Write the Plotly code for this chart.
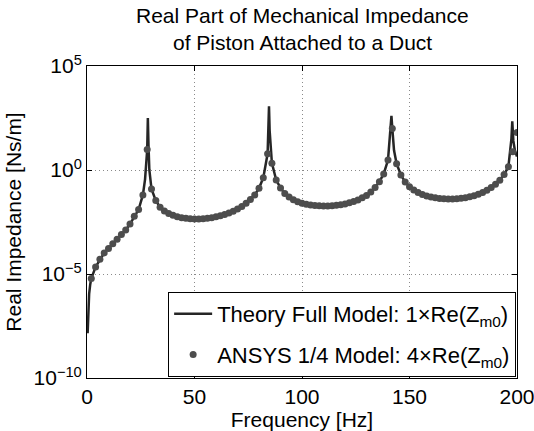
import plotly.graph_objects as go

# ANSYS 1/4 model samples (Hz) and log10 of 4*Re(Zm0)
ansys_freq = [2, 4, 6, 8, 10, 12, 14, 16, 18, 20, 22, 24, 26, 28, 30, 32, 34, 36, 38, 40,
              42, 44, 46, 48, 50, 52, 54, 56, 58, 60, 62, 64, 66, 68, 70, 72, 74, 76, 78, 80,
              82, 84, 86, 88, 90, 92, 94, 96, 98, 100, 102, 104, 106, 108, 110, 112, 114, 116, 118, 120,
              122, 124, 126, 128, 130, 132, 134, 136, 138, 140, 142, 144, 146, 148, 150, 152, 154, 156, 158, 160,
              162, 164, 166, 168, 170, 172, 174, 176, 178, 180, 182, 184, 186, 188, 190, 192, 194, 196, 198, 200]
ansys_log10 = [-5.22, -4.66, -4.29, -3.99, -3.77, -3.55, -3.33, -3.10, -2.88, -2.60,
               -2.22, -1.90, -1.20, 0.98, -0.91, -1.47, -1.79, -1.97, -2.09, -2.18,
               -2.25, -2.29, -2.32, -2.34, -2.35, -2.35, -2.34, -2.32, -2.29, -2.25,
               -2.20, -2.14, -2.07, -1.98, -1.88, -1.75, -1.60, -1.42, -1.20, -0.88,
               -0.37, 0.78, 0.33, -0.48, -0.86, -1.13, -1.30, -1.43, -1.53, -1.60,
               -1.65, -1.68, -1.71, -1.72, -1.73, -1.73, -1.72, -1.70, -1.67, -1.63,
               -1.58, -1.52, -1.44, -1.34, -1.22, -1.06, -0.84, -0.56, -0.19, 0.48,
               2.00, 0.30, -0.24, -0.58, -0.80, -0.96, -1.08, -1.18, -1.25, -1.30,
               -1.34, -1.37, -1.38, -1.39, -1.39, -1.38, -1.36, -1.33, -1.29, -1.24,
               -1.17, -1.08, -0.97, -0.84, -0.68, -0.49, -0.22, 0.16, 0.88, 1.80]

# Theory full model curve (Hz) and log10 of Re(Zm0)
theory_freq = [0.3, 0.6, 1.0, 1.5, 2, 4, 6, 8, 10, 12, 14, 16, 18, 20, 22, 24, 26, 27, 28, 28.3,
               28.6, 29.0, 30, 32, 34, 36, 38, 40, 42, 44, 46, 48, 50, 52, 54, 56, 58, 60, 62, 64,
               66, 68, 70, 72, 74, 76, 78, 80, 82, 84, 84.65, 84.95, 85.4, 86, 88, 90, 92, 94, 96, 98,
               100, 102, 104, 106, 108, 110, 112, 114, 116, 118, 120, 122, 124, 126, 128, 130, 132, 134, 136, 138,
               140, 141.6, 142, 142.8, 144, 146, 148, 150, 152, 154, 156, 158, 160, 162, 164, 166, 168, 170, 172, 174,
               176, 178, 180, 182, 184, 186, 188, 190, 192, 194, 196, 197.4, 197.8, 198.3, 199, 200]
theory_log10 = [-7.85, -6.60, -5.95, -5.50, -5.22, -4.66, -4.29, -3.99, -3.77, -3.55, -3.33, -3.10, -2.88, -2.60, -2.22, -1.90, -1.20, -0.45, 0.98, 2.50,
                1.20, 0.00, -0.91, -1.47, -1.79, -1.97, -2.09, -2.18, -2.25, -2.29, -2.32, -2.34, -2.35, -2.35, -2.34, -2.32, -2.29, -2.25, -2.20, -2.14,
                -2.07, -1.98, -1.88, -1.75, -1.60, -1.42, -1.20, -0.88, -0.37, 0.78, 3.06, 1.90, 1.00, 0.33, -0.48, -0.86, -1.13, -1.30, -1.43, -1.53,
                -1.60, -1.65, -1.68, -1.71, -1.72, -1.73, -1.73, -1.72, -1.70, -1.67, -1.63, -1.58, -1.52, -1.44, -1.34, -1.22, -1.06, -0.84, -0.56, -0.19,
                0.48, 2.60, 2.00, 0.95, 0.30, -0.24, -0.58, -0.80, -0.96, -1.08, -1.18, -1.25, -1.30, -1.34, -1.37, -1.38, -1.39, -1.39, -1.38, -1.36,
                -1.33, -1.29, -1.24, -1.17, -1.08, -0.97, -0.84, -0.68, -0.49, -0.22, 0.16, 1.50, 2.34, 1.40, 0.95, 0.65]

x_ticks = [0, 50, 100, 150, 200]
y_tick_vals = [1e-10, 1e-5, 1e0, 1e5]
y_tick_text = ["10<sup>−10</sup>", "10<sup>−5</sup>", "10<sup>0</sup>", "10<sup>5</sup>"]

title_lines = ["Real Part of Mechanical Impedance", "of Piston Attached to a Duct"]

theory_vals = [10 ** v for v in theory_log10]
ansys_vals = [10 ** v for v in ansys_log10]

FONT = "Liberation Sans"
FS = 21

fig = go.Figure()
fig.add_trace(go.Scatter(
    x=theory_freq, y=theory_vals, mode="lines",
    line=dict(color="#262626", width=2.5),
    name="Theory Full Model: 1×Re(Z<sub>m0</sub>)",
    legendgroup="a",
))
fig.add_trace(go.Scatter(
    x=ansys_freq, y=ansys_vals, mode="markers",
    marker=dict(color="#4d4d4d", size=7),
    name="ANSYS 1/4 Model: 4×Re(Z<sub>m0</sub>)",
    legendgroup="b",
))

# plot area spans y pixels 66..378 -> paper coords
def py_to_paper(py):
    return (378 - py) / 312.0

for txt, py in zip(title_lines, [15.5, 42.5]):
    fig.add_annotation(
        text=txt, xref="paper", yref="paper", x=0.5, y=py_to_paper(py),
        xanchor="center", yanchor="middle", showarrow=False,
        font=dict(family=FONT, size=FS, color="black"),
    )

fig.update_layout(
    width=534, height=431,
    margin=dict(l=87, r=17, t=66, b=53),
    paper_bgcolor="white", plot_bgcolor="white",
    font=dict(family=FONT, size=FS, color="black"),
    showlegend=True,
    legend=dict(
        x=0.998, y=0.003, xanchor="right", yanchor="bottom",
        bgcolor="white", bordercolor="black", borderwidth=1,
        font=dict(family=FONT, size=22, color="black"),
        traceorder="grouped", tracegroupgap=9,
        itemwidth=38,
    ),
)
fig.update_xaxes(
    range=[0, 200], tickvals=x_ticks, automargin=False,
    ticklabeloverflow="allow",
    title=dict(text="Frequency [Hz]", standoff=0, font=dict(size=FS)),
    tickfont=dict(size=FS),
    showline=True, linecolor="black", linewidth=1, mirror="ticks",
    ticks="inside", ticklen=5, tickcolor="black",
    showgrid=True, gridcolor="#8a8a8a", griddash="1px,3px", gridwidth=1,
    zeroline=False,
)
fig.update_yaxes(
    type="log", range=[-10, 5], tickvals=y_tick_vals, ticktext=y_tick_text,
    automargin=False, ticklabeloverflow="allow",
    title=dict(text="Real Impedance [Ns/m]", standoff=6, font=dict(size=FS)),
    tickfont=dict(size=FS),
    showline=True, linecolor="black", linewidth=1, mirror="ticks",
    ticks="inside", ticklen=5, tickcolor="black",
    showgrid=True, gridcolor="#8a8a8a", griddash="1px,3px", gridwidth=1,
    zeroline=False,
)

fig.write_html(
    "out.html",
    config={"displayModeBar": False},
    post_script="document.body.style.margin='0';",
)
